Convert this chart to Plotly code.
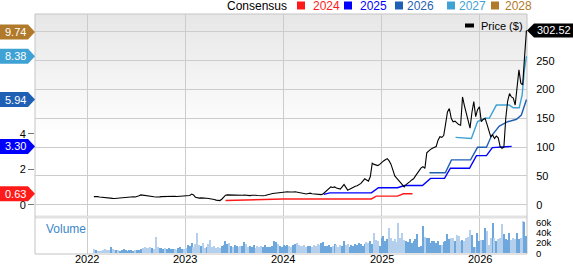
import pandas as pd
import plotly.graph_objects as go

# ---------------- data ----------------
price = [
    14, 14.5, 14, 13.5, 13, 12.5, 12, 11.5, 11, 11.2,
    11, 10.8, 11.2, 10.8, 11, 11.5, 12, 12.5, 13, 13.5,
    13.5, 13.8, 13.4, 14, 15.5, 17, 16.5, 15.5, 14.5, 14.2,
    14, 14.3, 13.8, 13.5, 13.2, 13.6, 14, 14.2, 13.8, 14,
    14.2, 14.6, 15, 14.6, 14.2, 14.4, 14.8, 15.2, 14.8, 14.6,
    15, 16, 18.5, 17, 13, 12, 11.5, 11.8, 11.2, 11,
    11.2, 10.8, 10.5, 10, 9, 8, 7.5, 7.2, 9.5, 13.5,
    16.5, 17, 16.8, 17, 16.5, 16.8, 17, 16.5, 16, 16.5,
    16.8, 16.2, 15.5, 15.8, 16.5, 17, 16.4, 16, 15.6, 15.2,
    15.5, 16, 16.5, 17.5, 18.5, 19.5, 20, 20.5, 20.2, 21,
    21.5, 21.8, 22, 22.4, 22, 21.5, 22, 22.5, 21.8, 21.5,
    21, 20, 19, 18.5, 19.5, 20, 19, 18.5, 18, 17.5,
    17, 17.5, 19, 22, 26, 29, 31, 30, 31, 29,
    28, 27, 31, 35, 30, 25, 27, 29, 31, 32,
    33, 35, 37, 41, 45, 43, 41, 49, 72, 70,
    69, 68, 70, 74, 76, 78, 80, 76, 70, 60,
    50, 46, 42, 40, 35, 31, 35, 37, 40, 43,
    45, 50, 55, 60, 64, 66, 63, 90, 94, 96,
    98, 99, 101, 112, 118, 117, 120, 140, 161, 167,
    150, 144, 145, 142, 139, 138, 187, 172, 159, 145,
    133, 160, 179, 153, 165, 170, 144, 148, 150, 140,
    130, 118, 121, 115, 119, 116, 101, 98, 100, 150,
    180, 193, 187, 185, 173, 205, 234, 211, 208, 257,
    302.52,
]

volume_k = [
    8, 6, 5, 5, 4, 6, 9, 7, 6, 12, 8, 7, 6, 7, 5, 6, 8, 6, 5, 7,
    6, 5, 6, 7, 6, 8, 11, 12, 10, 11, 12, 10, 9, 31, 12, 11, 10, 9, 10, 9,
    10, 8, 9, 8, 7, 11, 12, 9, 8, 10, 16, 14, 20, 12, 18, 40, 16, 14, 20, 10,
    12, 18, 26, 13, 15, 11, 12, 10, 14, 17, 24, 18, 20, 15, 13, 16, 14, 12, 15, 14,
    22, 18, 12, 14, 13, 16, 11, 15, 12, 14, 13, 16, 12, 12, 13, 14, 25, 22, 18, 14,
    12, 16, 15, 17, 14, 13, 16, 18, 20, 17, 15, 14, 16, 12, 14, 15, 13, 16, 14, 18,
    16, 20, 23, 15, 14, 17, 13, 15, 19, 17, 12, 16, 14, 25, 16, 18, 13, 17, 15, 18,
    17, 20, 19, 14, 18, 22, 20, 24, 18, 40, 26, 25, 14, 30, 34, 24, 28, 50, 30, 24,
    28, 22, 60, 30, 40, 26, 25, 22, 28, 20, 24, 28, 38,
    13, 14, 54, 31, 29, 30, 20, 25, 24, 20,
    25, 16, 16, 22, 24, 37, 27, 29, 29, 25,
    36, 34, 25, 26, 25, 29, 31, 46, 36, 13,
    13, 39, 25, 26, 26, 49, 43, 16, 30, 60,
    29, 25, 28, 29, 58, 37, 28, 26, 39, 26,
    30, 27, 40, 28, 30, 64, 62, 33,
]

first_week = "2022-01-26"

cons_2024_dates = ["2023-05-31", "2023-09-27", "2023-12-29", "2024-11-24", "2024-12-12",
                   "2025-03-01", "2025-03-23", "2025-04-26"]
cons_2024 = [0.25, 0.28, 0.34, 0.34, 0.50, 0.50, 0.63, 0.63]

cons_2025_dates = ["2024-05-31", "2024-06-22", "2024-11-24", "2024-12-20", "2025-03-01",
                   "2025-03-27", "2025-06-02", "2025-07-02", "2025-08-23", "2025-09-14",
                   "2025-11-24", "2025-12-20", "2026-01-26", "2026-02-17", "2026-04-30"]
cons_2025 = [0.60, 0.68, 0.68, 0.97, 0.97, 1.10, 1.10, 1.50, 1.50, 2.07,
             2.07, 2.78, 2.78, 3.23, 3.30]

cons_2026_dates = ["2025-06-28", "2025-08-26", "2025-09-18", "2025-11-28", "2025-12-24",
                   "2026-01-26", "2026-02-14", "2026-03-15", "2026-04-15", "2026-05-18",
                   "2026-06-05", "2026-06-24"]
cons_2026 = [1.82, 1.82, 2.54, 2.54, 3.25, 3.25, 3.90, 4.45, 4.69, 4.83, 5.07, 5.94]

cons_2027_dates = ["2025-10-03", "2025-12-01", "2025-12-24", "2026-01-19", "2026-02-06",
                   "2026-03-04", "2026-04-21", "2026-05-06", "2026-05-28", "2026-06-08",
                   "2026-06-16", "2026-06-24"]
cons_2027 = [3.81, 3.75, 4.70, 4.88, 4.90, 5.63, 5.63, 5.48, 5.48, 6.20, 7.60, 8.38]

cons_2028_dates = ["2026-06-21", "2026-06-24"]
cons_2028 = [9.74, 9.74]

years = ["2022", "2023", "2024", "2025", "2026"]
eps_ticks = [0, 2, 4]
price_ticks = [0, 50, 100, 150, 200, 250, 300]
price_ticktext = ["0", "50", "100", "150", "200", "250", ""]
vol_ticks = [0, 20000, 40000, 60000]
vol_ticktext = ["0", "20k", "40k", "60k"]

# ---------------- styles ----------------
FONT = "Liberation Sans, Arial, sans-serif"
GRID = "#cccccc"
C24, C25, C26, C27, C28 = "#ff1a1a", "#0000ff", "#1f5fb4", "#3fa2d4", "#b07a2a"
W, H = 573, 264
ML, MR, MT, MB = 35, 46, 14, 10
PW = W - ML - MR
PH = H - MT - MB


def px_x(px):
    return (px - ML) / PW


def px_y(py):
    return (H - MB - py) / PH


price_dates = pd.date_range(first_week, periods=len(price), freq="7D")
vol_dates = pd.date_range(first_week, periods=len(volume_k), freq="7D")
vol = [v * 1000 for v in volume_k]
bar_colors = []
for i in range(len(vol)):
    up = 0 < i < len(price) and price[i] >= price[i - 1]
    bar_colors.append("#6ea7dc" if up else "#b5d0ec")

fig = go.Figure()

fig.add_trace(go.Bar(x=vol_dates, y=vol, xaxis="x", yaxis="y3",
                     marker=dict(color=bar_colors, line=dict(width=0)),
                     width=4.5 * 86400000, showlegend=False, hoverinfo="skip"))

for d, v, c in [(cons_2024_dates, cons_2024, C24), (cons_2025_dates, cons_2025, C25),
                (cons_2026_dates, cons_2026, C26), (cons_2027_dates, cons_2027, C27),
                (cons_2028_dates, cons_2028, C28)]:
    fig.add_trace(go.Scatter(x=d, y=v, mode="lines", xaxis="x", yaxis="y",
                             line=dict(color=c, width=1.4), showlegend=False))

fig.add_trace(go.Scatter(x=price_dates, y=price, mode="lines", xaxis="x", yaxis="y2",
                         line=dict(color="#000000", width=1.1), showlegend=False))

shapes = []
# gradient background of price panel
top, bottom = 14, 134
n = 24
for k in range(n):
    y0p = top + (bottom - top) * k / n
    y1p = top + (bottom - top) * (k + 1) / n
    g = int(231 + (255 - 231) * (k / (n - 1)))
    shapes.append(dict(type="rect", xref="paper", yref="paper", x0=0, x1=1,
                       y0=px_y(y1p), y1=px_y(y0p), line=dict(width=0),
                       fillcolor=f"rgb({g},{g},{g})", layer="below"))
# separator band between panels
shapes.append(dict(type="rect", xref="paper", yref="paper", x0=0, x1=1,
                   y0=px_y(218.5), y1=px_y(215.5), line=dict(width=0),
                   fillcolor="#e2e2e2", layer="below"))
# frame
shapes.append(dict(type="rect", xref="paper", yref="paper", x0=0, x1=1, y0=0, y1=1,
                   line=dict(color="#c4c4c4", width=1), fillcolor="rgba(0,0,0,0)",
                   layer="below"))

annotations = []
# EPS end labels (left)
for vals, c in [(cons_2028, C28), (cons_2027, C27), (cons_2026, C26),
                (cons_2025, C25), (cons_2024, C24)]:
    v = vals[-1]
    shapes.append(dict(type="path", xref="paper", yref="y", xsizemode="pixel",
                       ysizemode="pixel", xanchor=0, yanchor=v,
                       path="M -35,-7.5 L -7,-7.5 L 0,0 L -7,7.5 L -35,7.5 Z",
                       fillcolor=c, line=dict(width=0), layer="above"))
    annotations.append(dict(x=0, xref="paper", y=v, yref="y", text=f"{v:.2f}",
                            showarrow=False, xanchor="center", yanchor="middle",
                            xshift=-20, font=dict(family=FONT, size=11, color="white")))

# price end label (right)
last = price[-1]
shapes.append(dict(type="path", xref="paper", yref="y2", xsizemode="pixel",
                   ysizemode="pixel", xanchor=1, yanchor=last,
                   path="M 0,0 L 7,7 L 46,7 L 46,-7 L 7,-7 Z",
                   fillcolor="#000000", line=dict(width=0), layer="above"))
annotations.append(dict(x=1, xref="paper", y=last, yref="y2", text=f"{last:.2f}",
                        showarrow=False, xanchor="center", yanchor="middle",
                        xshift=27, font=dict(family=FONT, size=11, color="white")))

# consensus legend
annotations.append(dict(x=px_x(225), y=px_y(5.5), xref="paper", yref="paper",
                        text="Consensus", showarrow=False, xanchor="left",
                        yanchor="middle", font=dict(family=FONT, size=12, color="#000")))
for sq, tx, label, c in [(297, 311, "2024", C24), (344, 358, "2025", C25),
                         (395, 405, "2026", C26), (447, 457, "2027", C27),
                         (491, 503, "2028", C28)]:
    shapes.append(dict(type="rect", xref="paper", yref="paper",
                       x0=px_x(sq), x1=px_x(sq + 8), y0=px_y(9.5), y1=px_y(1.5),
                       fillcolor=c, line=dict(width=0)))
    annotations.append(dict(x=px_x(tx), y=px_y(5.5), xref="paper", yref="paper",
                            text=label, showarrow=False, xanchor="left",
                            yanchor="middle", font=dict(family=FONT, size=12, color=c)))

# price legend
shapes.append(dict(type="rect", xref="paper", yref="paper",
                   x0=px_x(465), x1=px_x(474), y0=px_y(27.5), y1=px_y(23.5),
                   fillcolor="#000", line=dict(width=0)))
annotations.append(dict(x=px_x(479), y=px_y(26), xref="paper", yref="paper",
                        text="Price ($)", showarrow=False, xanchor="left",
                        yanchor="middle", font=dict(family=FONT, size=11, color="#000")))

# volume label
annotations.append(dict(x=px_x(44), y=px_y(229), xref="paper", yref="paper",
                        text="Volume", showarrow=False, xanchor="left",
                        yanchor="middle", font=dict(family=FONT, size=12, color="#3a88cc")))

# year labels under the x axis (placed as text so they stay inside the page)
for y in years:
    annotations.append(dict(x=f"{y}-01-01", xref="x", y=px_y(258.5), yref="paper",
                            text=y, showarrow=False, xanchor="center", yanchor="middle",
                            font=dict(family=FONT, size=11, color="#000")))

price_dom = [px_y(216), 1]
vol_dom = [0, px_y(218)]

fig.update_layout(
    width=W, height=H,
    margin=dict(l=ML, r=MR, t=MT, b=MB, pad=0, autoexpand=False),
    paper_bgcolor="white", plot_bgcolor="white",
    showlegend=False,
    font=dict(family=FONT, size=11, color="#000"),
    xaxis=dict(type="date", range=["2021-06-21", "2026-06-26"], anchor="y3",
               tickvals=[f"{y}-01-01" for y in years], showticklabels=False,
               showgrid=True, gridcolor=GRID, gridwidth=1, zeroline=False,
               showline=False, ticks="", automargin=False),
    yaxis=dict(domain=price_dom, range=[-0.62, 10.76], side="left", anchor="x",
               tickvals=eps_ticks, showgrid=False, zeroline=False,
               ticks="outside", ticklen=6, tickcolor="#777", tickfont=dict(size=11),
               automargin=False),
    yaxis2=dict(domain=price_dom, range=[-19.6, 331], side="right", overlaying="y",
                anchor="x", tickvals=price_ticks, ticktext=price_ticktext,
                showgrid=True, gridcolor=GRID, gridwidth=1, zeroline=False,
                ticks="outside", ticklen=6, tickcolor="rgba(0,0,0,0)",
                tickfont=dict(size=11), automargin=False),
    yaxis3=dict(domain=vol_dom, range=[-1400, 69000], side="right", anchor="x",
                tickvals=vol_ticks, ticktext=vol_ticktext, showgrid=False,
                zeroline=False, ticks="outside", ticklen=6,
                tickcolor="rgba(0,0,0,0)", tickfont=dict(size=9.5), automargin=False),
    bargap=0,
    shapes=shapes,
    annotations=annotations,
)

fig.write_html("out.html")
